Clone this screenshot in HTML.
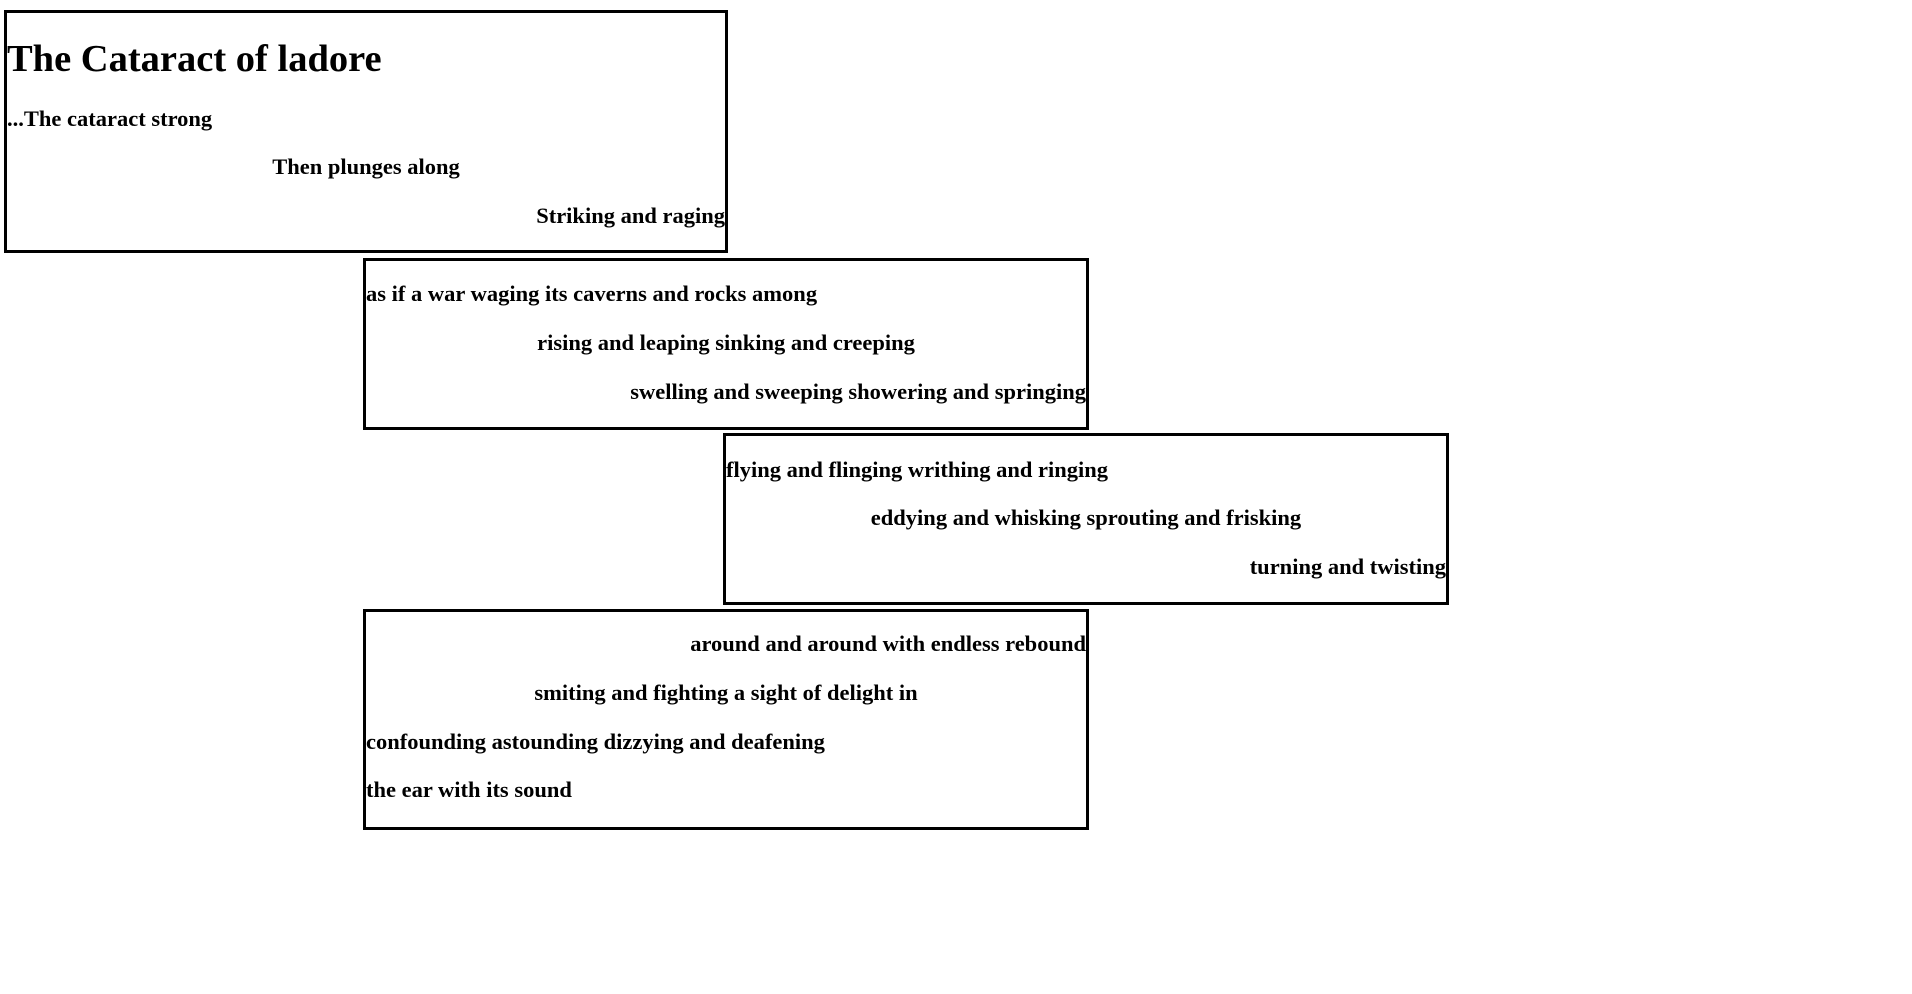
<!DOCTYPE html>
<html><head><meta charset="utf-8"><style>
html,body{margin:0;padding:0;background:#fff;width:1912px;height:994px;overflow:hidden;position:relative}
.b{position:absolute;border:3px solid #000;box-sizing:border-box}
.l{position:absolute;left:0;right:0;height:30px;line-height:30px;font-family:"Liberation Serif",serif;font-weight:bold;font-size:22.5px;color:#000;white-space:nowrap}
.c{text-align:center}.r{text-align:right}
.t{font-size:38.5px;height:46px;line-height:46px}
</style></head><body>
<div class="b" style="left:4px;top:10px;width:724px;height:243px">
 <div class="l t" style="top:23px">The Cataract of ladore</div>
 <div class="l" style="top:91px">...The cataract strong</div>
 <div class="l c" style="top:139px">Then plunges along</div>
 <div class="l r" style="top:188px">Striking and raging</div>
</div>
<div class="b" style="left:363px;top:258px;width:726px;height:172px">
 <div class="l" style="top:18px">as if a war waging its caverns and rocks among</div>
 <div class="l c" style="top:67px">rising and leaping sinking and creeping</div>
 <div class="l r" style="top:116px">swelling and sweeping showering and springing</div>
</div>
<div class="b" style="left:723px;top:433px;width:726px;height:172px">
 <div class="l" style="top:19px">flying and flinging writhing and ringing</div>
 <div class="l c" style="top:67px">eddying and whisking sprouting and frisking</div>
 <div class="l r" style="top:116px">turning and twisting</div>
</div>
<div class="b" style="left:363px;top:609px;width:726px;height:221px">
 <div class="l r" style="top:17px">around and around with endless rebound</div>
 <div class="l c" style="top:66px">smiting and fighting a sight of delight in</div>
 <div class="l" style="top:115px">confounding astounding dizzying and deafening</div>
 <div class="l" style="top:163px">the ear with its sound</div>
</div>
</body></html>
